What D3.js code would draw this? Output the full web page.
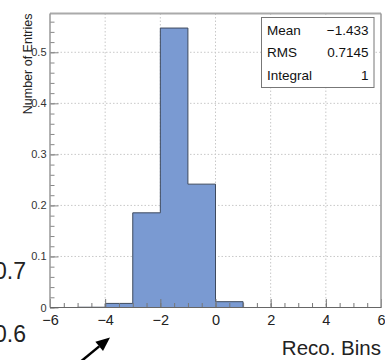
<!DOCTYPE html>
<html>
<head>
<meta charset="utf-8">
<script src="https://cdn.jsdelivr.net/npm/d3@7"></script>
<style>
  body { margin: 0; background: #fff; }
  text { font-family: "Liberation Sans", Arial, Helvetica, sans-serif; }
</style>
</head>
<body>
<div id="viz"></div>
<script>
// histogram bins (low edge, width 1) and contents
const binLow = [-5, -4, -3, -2, -1, 0];
const binContent = [0.0005, 0.008, 0.1855, 0.5475, 0.2417, 0.0114];
const binWidth = 1;

// axis ticks
const xMajor = [-6, -4, -2, 0, 2, 4, 6];
const yMajor = [0, 0.1, 0.2, 0.3, 0.4, 0.5];

// stats box rows
const statNames = ["Mean", "RMS", "Integral"];
const statValues = ["\u22121.433", "0.7145", "1"];

const W = 385, H = 360;
const frame = {left: 50, right: 381, top: 13.5, bottom: 307.5};

const svg = d3.select("#viz").append("svg")
  .attr("width", W).attr("height", H);

const x = d3.scaleLinear().domain([-6, 6]).range([frame.left, frame.right]);
const y = d3.scaleLinear().domain([0, 0.576]).range([frame.bottom, frame.top]);

// grid
const grid = svg.append("g")
  .attr("stroke", "#c8c8c8").attr("stroke-dasharray", "1.5,2").attr("stroke-width", 1);
grid.selectAll("line.gx").data(xMajor.slice(1, -1)).enter().append("line")
  .attr("x1", d => x(d)).attr("x2", d => x(d))
  .attr("y1", frame.top).attr("y2", frame.bottom);
grid.selectAll("line.gy").data(yMajor.slice(1)).enter().append("line")
  .attr("x1", frame.left).attr("x2", frame.right)
  .attr("y1", d => y(d)).attr("y2", d => y(d));

// histogram as a step outline
const pts = [[binLow[0], 0]];
binLow.forEach((lo, i) => {
  pts.push([lo, binContent[i]]);
  pts.push([lo + binWidth, binContent[i]]);
});
pts.push([binLow[binLow.length - 1] + binWidth, 0]);
svg.append("path")
  .datum(pts)
  .attr("d", d3.line().x(d => x(d[0])).y(d => y(d[1])))
  .attr("fill", "#7a9ad2")
  .attr("stroke", "#3e4a5e")
  .attr("stroke-width", 1);

// x axis, ticks inside
const xMinor = d3.range(-6, 6.01, 0.5);
svg.append("g")
  .attr("transform", `translate(0, ${frame.bottom})`)
  .call(d3.axisBottom(x).tickValues(xMinor).tickSize(-4.5).tickFormat(""))
  .call(g => g.select(".domain").remove())
  .call(g => g.selectAll("line").attr("stroke", "#777"));
svg.append("g")
  .attr("transform", `translate(0, ${frame.bottom})`)
  .call(d3.axisBottom(x).tickValues(xMajor).tickSize(-8.5).tickPadding(7.5))
  .call(g => g.select(".domain").remove())
  .call(g => g.selectAll("line").attr("stroke", "#777"))
  .call(g => g.selectAll("text").attr("fill", "#222").style("font-size", "14.5px")
    .style("font-family", "'Liberation Sans', Arial, sans-serif"));

// y axis, ticks inside
const yMinor = d3.range(0, 0.5761, 0.02);
svg.append("g")
  .attr("transform", `translate(${frame.left}, 0)`)
  .call(d3.axisLeft(y).tickValues(yMinor).tickSize(-4.5).tickFormat(""))
  .call(g => g.select(".domain").remove())
  .call(g => g.selectAll("line").attr("stroke", "#888"));
svg.append("g")
  .attr("transform", `translate(${frame.left}, 0)`)
  .call(d3.axisLeft(y).tickValues(yMajor).tickSize(-8.5).tickPadding(3.5)
    .tickFormat(d => d === 0 ? "0" : d3.format(".1f")(d)))
  .call(g => g.select(".domain").remove())
  .call(g => g.selectAll("line").attr("stroke", "#888"))
  .call(g => g.selectAll("text").attr("fill", "#333").style("font-size", "11px")
    .style("font-family", "'Liberation Sans', Arial, sans-serif"));

// frame
svg.append("line").attr("x1", frame.left).attr("x2", frame.right)
  .attr("y1", frame.top).attr("y2", frame.top).attr("stroke", "#aaa").attr("stroke-width", 2);
svg.append("line").attr("x1", frame.left).attr("x2", frame.left)
  .attr("y1", frame.top).attr("y2", frame.bottom).attr("stroke", "#999").attr("stroke-width", 1.5);
svg.append("line").attr("x1", frame.right).attr("x2", frame.right)
  .attr("y1", frame.top).attr("y2", frame.bottom).attr("stroke", "#999").attr("stroke-width", 1.5);
svg.append("line").attr("x1", frame.left).attr("x2", frame.right)
  .attr("y1", frame.bottom).attr("y2", frame.bottom).attr("stroke", "#666").attr("stroke-width", 1.2);

// axis titles
svg.append("text")
  .attr("text-anchor", "end")
  .attr("transform", `translate(32, ${frame.top}) rotate(-90)`)
  .attr("fill", "#222")
  .style("font-size", "12.5px")
  .text("Number of Entries");

svg.append("text")
  .attr("text-anchor", "end")
  .attr("x", 381).attr("y", 355)
  .attr("fill", "#222")
  .style("font-size", "20.5px")
  .text("Reco. Bins");

// stats box
svg.append("rect")
  .attr("x", 261.5).attr("y", 17.5).attr("width", 112.5).attr("height", 70)
  .attr("fill", "#fff").attr("stroke", "#777").attr("stroke-width", 1);
statNames.forEach((n, i) => {
  const by = 34.5 + i * 22.5;
  svg.append("text").attr("x", 267).attr("y", by).attr("fill", "#111")
    .style("font-size", "13.5px").text(n);
  svg.append("text").attr("x", 368.5).attr("y", by).attr("text-anchor", "end").attr("fill", "#111")
    .style("font-size", "13.5px").text(statValues[i]);
});

// neighbouring panel leftovers and arrow annotation
svg.append("text").attr("x", 26).attr("y", 279).attr("text-anchor", "end")
  .attr("fill", "#222").style("font-size", "23px").text("0.7");
svg.append("text").attr("x", 26).attr("y", 341.5).attr("text-anchor", "end")
  .attr("fill", "#222").style("font-size", "23px").text("0.6");

const tip = [110, 337.5], tail = [79, 363];
const ang = Math.atan2(tip[1] - tail[1], tip[0] - tail[0]);
const hl = 14, hw = 6;
const base = [tip[0] - hl * Math.cos(ang), tip[1] - hl * Math.sin(ang)];
svg.append("line")
  .attr("x1", tail[0]).attr("y1", tail[1]).attr("x2", base[0]).attr("y2", base[1])
  .attr("stroke", "#000").attr("stroke-width", 2.5);
svg.append("path")
  .attr("d", d3.line()([
    tip,
    [base[0] + hw * Math.sin(ang), base[1] - hw * Math.cos(ang)],
    [base[0] - hw * Math.sin(ang), base[1] + hw * Math.cos(ang)]
  ]) + "Z")
  .attr("fill", "#000");
</script>
</body>
</html>
